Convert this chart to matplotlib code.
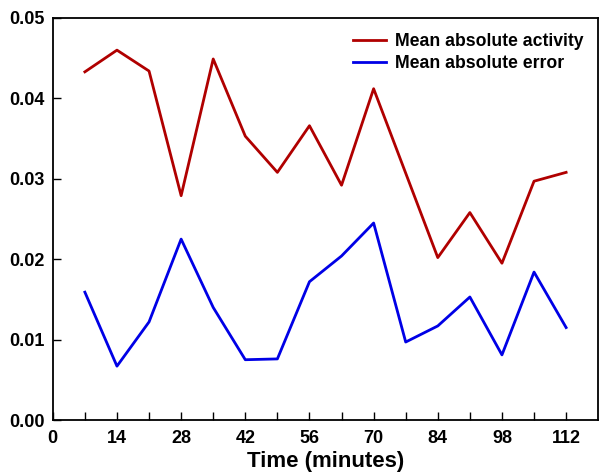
import matplotlib
matplotlib.use("Agg")
import matplotlib.pyplot as plt
import numpy as np

plt.rcParams['font.family'] = ['Liberation Sans', 'DejaVu Sans']
plt.rcParams['font.weight'] = 'bold'

time_min = [7, 14, 21, 28, 35, 42, 49, 56, 63, 70, 77, 84, 91, 98, 105, 112]
mean_abs_activity = [0.0433, 0.0460, 0.0434, 0.0279, 0.0449, 0.0353, 0.0308, 0.0366,
                     0.0292, 0.0412, 0.0307, 0.0202, 0.0258, 0.0195, 0.0297, 0.0308]
mean_abs_error = [0.0159, 0.0067, 0.0122, 0.0225, 0.0140, 0.0075, 0.0076, 0.0172,
                  0.0204, 0.0245, 0.0097, 0.0117, 0.0153, 0.0081, 0.0184, 0.0115]
xtick_labels = [0, 14, 28, 42, 56, 70, 84, 98, 112]
ytick_labels = [0.00, 0.01, 0.02, 0.03, 0.04, 0.05]

fig = plt.figure(figsize=(6.0, 4.73), dpi=100)
ax = fig.add_axes([0.088, 0.112, 0.909, 0.85])

ax.plot(time_min, mean_abs_activity, color='#b00000', lw=2.0, label='Mean absolute activity')
ax.plot(time_min, mean_abs_error, color='#0000e6', lw=2.0, label='Mean absolute error')

ax.set_xlim(0, 119)
ax.set_ylim(0, 0.05)
ax.set_xticks(xtick_labels)
ax.set_xticklabels([str(v) for v in xtick_labels], fontsize=13, fontweight='bold')
ax.set_xticks(time_min, minor=True)
ax.set_yticks(ytick_labels)
ax.set_yticklabels([f"{v:.2f}" for v in ytick_labels], fontsize=13, fontweight='bold')
ax.tick_params(axis='both', which='both', direction='in', length=6, width=1.0)
ax.tick_params(axis='x', which='major', pad=7)
ax.tick_params(axis='y', which='major', pad=6)
for s in ax.spines.values():
    s.set_linewidth(1.3)

ax.set_xlabel('Time (minutes)', fontsize=16, fontweight='bold', labelpad=3)
leg = ax.legend(loc='upper right', frameon=False, fontsize=12.7, handlelength=1.85,
                handletextpad=0.5, labelspacing=0.3, borderaxespad=0.45)
for t in leg.get_texts():
    t.set_fontweight('bold')

fig.savefig('out.png', dpi=100)
